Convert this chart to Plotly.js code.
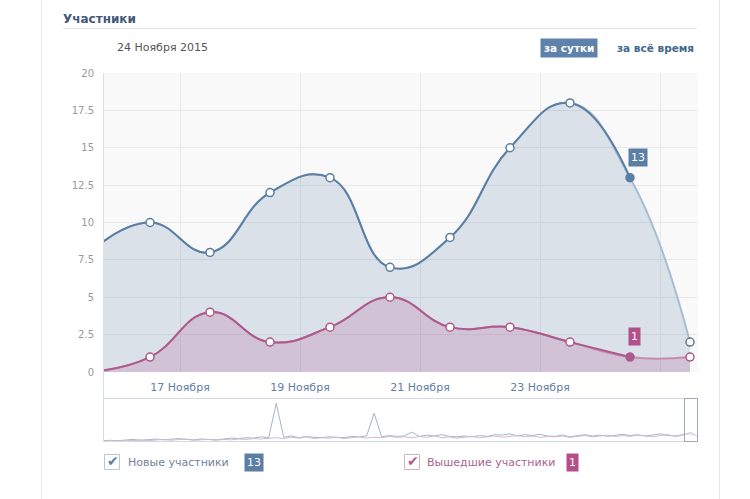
<!DOCTYPE html>
<html>
<head>
<meta charset="utf-8">
<script src="https://cdn.plot.ly/plotly-3.0.1.min.js"></script>
<style>
  html, body { margin: 0; padding: 0; background: #fff; }
  #chart { width: 750px; height: 499px; }
</style>
</head>
<body>
<div id="chart"></div>
<script>
// дни (точки стоят в середине суток)
const days = ['2015-11-15 12:00', '2015-11-16 12:00', '2015-11-17 12:00', '2015-11-18 12:00',
  '2015-11-19 12:00', '2015-11-20 12:00', '2015-11-21 12:00', '2015-11-22 12:00',
  '2015-11-23 12:00', '2015-11-24 12:00', '2015-11-25 12:00'];
const newMembers = [8, 10, 8, 12, 13, 7, 9, 15, 18, 13, 2];
const leftMembers = [0, 1, 4, 2, 3, 5, 3, 3, 2, 1, 1];
const selectedIndex = 9; // 24 Ноября
const selectedDate = '24 Ноября 2015';

const tickDays = ['2015-11-17', '2015-11-19', '2015-11-21', '2015-11-23', '2015-11-25'];
const tickLabels = ['17 Ноября', '19 Ноября', '21 Ноября', '23 Ноября', ''];

// мини-график навигатора (вся история)
const navNew = [0.3, 0.4, 0.3, 0.5, 0.6, 0.4, 0.5, 0.7, 0.5, 0.6,
  0.8, 0.6, 0.5, 0.7, 0.6, 0.5, 0.7, 0.9, 0.8, 1.0,
  0.9, 1.2, 1.0, 9.0, 1.1, 1.4, 1.0, 1.3, 1.1, 1.0,
  1.2, 1.1, 1.0, 1.3, 1.2, 1.4, 6.7, 1.2, 1.5, 1.3,
  1.4, 2.3, 1.3, 1.6, 1.4, 1.7, 1.3, 1.2, 1.4, 1.2,
  1.5, 1.3, 1.7, 1.6, 1.9, 1.4, 1.7, 1.5, 1.8, 1.4,
  1.3, 1.6, 1.2, 1.5, 1.7, 1.4, 1.6, 1.3, 1.5, 1.8,
  1.5, 1.7, 1.4, 1.6, 1.9, 1.5, 1.4, 1.7, 2.2, 1.3];
const navLeft = [0.2, 0.3, 0.2, 0.4, 0.3, 0.5, 0.3, 0.4, 0.6, 0.4,
  0.5, 0.7, 0.4, 0.5, 0.6, 0.4, 0.6, 0.5, 0.7, 0.6,
  0.8, 0.7, 0.9, 1.0, 0.8, 1.1, 0.9, 1.2, 0.8, 1.0,
  0.9, 1.1, 0.8, 1.0, 1.2, 0.9, 1.1, 1.0, 1.3, 1.1,
  1.2, 1.0, 1.3, 1.1, 1.4, 1.0, 1.2, 0.9, 1.1, 1.3,
  1.0, 1.2, 1.4, 1.1, 1.3, 1.5, 1.2, 1.4, 1.1, 1.3,
  1.2, 1.4, 1.1, 1.3, 1.5, 1.2, 1.4, 1.6, 1.3, 1.5,
  1.3, 1.6, 1.4, 1.2, 1.5, 1.7, 1.3, 1.6, 1.9, 1.4];

const FONT = 'DejaVu Sans, Verdana, sans-serif';
const blue = '#5b7ea4', blueTail = '#a9bdd2', blueFill = 'rgba(93,128,168,0.2)';
const pink = '#ad5a8c', pinkTail = '#c98ab0', pinkFill = 'rgba(176,90,140,0.22)';
const SMOOTH = 1.3;

// пиксели -> доли paper (область графика 103..698 x 73..442)
const L = 103, R = 698, T = 73, B = 442;
const X = px => (px - L) / (R - L);
const Y = py => (B - py) / (B - T);

const shown = days.slice(0, selectedIndex + 1);
const markerFill = (c) => shown.map((_, i) => i === selectedIndex ? c : '#fff');

const traces = [
  { x: days, y: newMembers, type: 'scatter', mode: 'lines', fill: 'tozeroy', fillcolor: blueFill,
    line: { color: blueTail, width: 2, shape: 'spline', smoothing: SMOOTH }, hoverinfo: 'skip' },
  { x: shown, y: newMembers.slice(0, selectedIndex + 1), type: 'scatter', mode: 'lines+markers',
    line: { color: blue, width: 2, shape: 'spline', smoothing: SMOOTH },
    marker: { size: 8, color: markerFill(blue), line: { color: blue, width: 1.5 } } },
  { x: days.slice(-1), y: newMembers.slice(-1), type: 'scatter', mode: 'markers',
    marker: { size: 8, color: '#fff', line: { color: '#64788e', width: 1.5 } } },

  { x: days, y: leftMembers, type: 'scatter', mode: 'lines', fill: 'tozeroy', fillcolor: pinkFill,
    line: { color: pinkTail, width: 2, shape: 'spline', smoothing: SMOOTH }, hoverinfo: 'skip' },
  { x: shown, y: leftMembers.slice(0, selectedIndex + 1), type: 'scatter', mode: 'lines+markers',
    line: { color: pink, width: 2, shape: 'spline', smoothing: SMOOTH },
    marker: { size: 8, color: markerFill(pink), line: { color: pink, width: 1.5 } } },
  { x: days.slice(-1), y: leftMembers.slice(-1), type: 'scatter', mode: 'markers',
    marker: { size: 8, color: '#fff', line: { color: pink, width: 1.5 } } },

  { x: navNew.map((_, i) => i), y: navNew, xaxis: 'x2', yaxis: 'y2', type: 'scatter', mode: 'lines',
    line: { color: '#a3b5ca', width: 1 } },
  { x: navLeft.map((_, i) => i), y: navLeft, xaxis: 'x2', yaxis: 'y2', type: 'scatter', mode: 'lines',
    line: { color: '#d6b9cc', width: 1 } }
];

const ann = (o) => Object.assign({ xref: 'paper', yref: 'paper', showarrow: false,
  font: { family: FONT, size: 11 } }, o);

const annotations = [
  ann({ x: X(115), y: Y(47), xanchor: 'left', yanchor: 'middle', text: selectedDate,
    font: { family: FONT, size: 11, color: '#555' } }),
  ann({ x: X(569), y: Y(48), xanchor: 'center', yanchor: 'middle', text: '<b>за сутки</b>',
    bgcolor: '#5e82a9', borderpad: 3, font: { family: FONT, size: 10.5, color: '#fff' } }),
  ann({ x: X(655), y: Y(48), xanchor: 'center', yanchor: 'middle', text: '<b>за всё время</b>',
    font: { family: FONT, size: 10.5, color: '#45688e' } }),

  // легенда
  ann({ x: X(113), y: Y(461), xanchor: 'center', yanchor: 'middle', text: '✔',
    font: { family: FONT, size: 14, color: blue } }),
  ann({ x: X(126), y: Y(462), xanchor: 'left', yanchor: 'middle', text: 'Новые участники',
    font: { family: FONT, size: 11, color: '#73839a' } }),
  ann({ x: X(244), y: Y(462), xanchor: 'left', yanchor: 'middle', text: String(newMembers[selectedIndex]),
    bgcolor: blue, borderpad: 2, font: { family: FONT, size: 11, color: '#fff' } }),
  ann({ x: X(413), y: Y(461), xanchor: 'center', yanchor: 'middle', text: '✔',
    font: { family: FONT, size: 14, color: pink } }),
  ann({ x: X(425), y: Y(462), xanchor: 'left', yanchor: 'middle', text: 'Вышедшие участники',
    font: { family: FONT, size: 11, color: '#a8648e' } }),
  ann({ x: X(566), y: Y(462), xanchor: 'left', yanchor: 'middle', text: String(leftMembers[selectedIndex]),
    bgcolor: '#b44f8c', borderpad: 2, font: { family: FONT, size: 11, color: '#fff' } }),

  // подписи выбранной точки
  { x: days[selectedIndex], y: newMembers[selectedIndex], xref: 'x', yref: 'y', showarrow: false,
    xanchor: 'left', yanchor: 'bottom', xshift: -2, yshift: 11, text: String(newMembers[selectedIndex]),
    bgcolor: blue, borderpad: 2, font: { family: FONT, size: 11, color: '#fff' } },
  { x: days[selectedIndex], y: leftMembers[selectedIndex], xref: 'x', yref: 'y', showarrow: false,
    xanchor: 'left', yanchor: 'bottom', xshift: -2, yshift: 11, text: String(leftMembers[selectedIndex]),
    bgcolor: '#b44f8c', borderpad: 2, font: { family: FONT, size: 11, color: '#fff' } }
];

const line = (x0, y0, x1, y1, color) => ({ type: 'line', xref: 'paper', yref: 'paper',
  x0: X(x0), y0: Y(y0), x1: X(x1), y1: Y(y1), line: { color: color, width: 1 } });
const rect = (x0, y0, x1, y1, color, fill) => ({ type: 'rect', xref: 'paper', yref: 'paper',
  x0: X(x0), y0: Y(y0), x1: X(x1), y1: Y(y1), line: { color: color, width: 1 },
  fillcolor: fill || 'rgba(0,0,0,0)' });

const shapes = [
  { type: 'rect', xref: 'x domain', yref: 'y domain', x0: 0, x1: 1, y0: 0, y1: 1,
    fillcolor: '#f9f9f9', line: { width: 0 }, layer: 'below' },
  line(41.5, 0, 41.5, 499, '#e4e6ea'),
  line(719.5, 0, 719.5, 499, '#e4e6ea'),
  line(63, 28.5, 697, 28.5, '#dde3ea'),
  line(103.5, 73, 103.5, 442, '#d9dfe6'),
  rect(103.5, 398.5, 697.5, 441.5, '#d5dbe2'),
  rect(684.5, 398.5, 697.5, 441.5, '#9ea8b4', 'rgba(255,255,255,0.3)'),
  rect(104.5, 454.5, 119.5, 469.5, '#b9c6d4', '#fff'),
  rect(404.5, 454.5, 419.5, 469.5, '#d5b3c7', '#fff')
];

const layout = {
  width: 750, height: 499, autosize: false,
  paper_bgcolor: '#fff', plot_bgcolor: '#fff',
  margin: { l: L, r: 750 - R, t: T, b: 499 - B, pad: 0 },
  showlegend: false,
  hovermode: false,
  title: { text: '<b>Участники</b>', xref: 'container', yref: 'container',
    x: 63 / 750, y: 1 - 19 / 499, xanchor: 'left', yanchor: 'middle',
    font: { family: FONT, size: 12, color: '#42597a' } },
  xaxis: {
    type: 'date', range: ['2015-11-15 17:12', '2015-11-25 15:12'],
    tickvals: tickDays, ticktext: tickLabels,
    showgrid: true, gridcolor: '#e8e8e8', zeroline: false, showline: false,
    ticks: 'outside', ticklen: 5, tickcolor: 'rgba(0,0,0,0)',
    tickfont: { family: FONT, size: 11, color: '#62809f' }, fixedrange: true
  },
  yaxis: {
    domain: [Y(372), 1], range: [0, 20], dtick: 2.5,
    showgrid: true, gridcolor: '#e8e8e8', zeroline: false, showline: false,
    ticks: 'outside', ticklen: 6, tickcolor: 'rgba(0,0,0,0)',
    tickfont: { family: FONT, size: 10, color: '#999' }, fixedrange: true
  },
  xaxis2: { anchor: 'y2', range: [0, navNew.length - 1], visible: false, fixedrange: true },
  yaxis2: { anchor: 'x2', domain: [0, Y(399)], range: [0, 10], visible: false, fixedrange: true },
  shapes: shapes,
  annotations: annotations
};

Plotly.newPlot('chart', traces, layout, { displayModeBar: false, staticPlot: true });
</script>
</body>
</html>
